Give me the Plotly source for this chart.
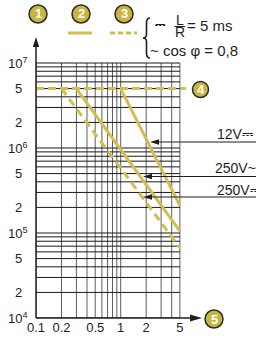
import math
import plotly.graph_objects as go

# ---------------- data ----------------
current_12v_dc = [1.0, 5.0]
cycles_12v_dc = [5.0e6, 2.1e5]
current_250v_ac = [0.3, 5.0]
cycles_250v_ac = [5.0e6, 1.05e5]
current_250v_dc = [0.2, 5.0]
cycles_250v_dc = [5.0e6, 6.7e4]
mech_current = [0.1, 5.9]
mech_cycles = [5.0e6, 5.0e6]

x_tick_vals = [0.1, 0.2, 0.5, 1, 2, 5]
x_tick_labels = ["0.1", "0.2", "0.5", "1", "2", "5"]
y_tick_vals = [1e4, 2e4, 5e4, 1e5, 2e5, 5e5, 1e6, 2e6, 5e6, 1e7]
y_tick_labels = ["10<sup>4</sup>", "2", "5", "10<sup>5</sup>", "2", "5",
                 "10<sup>6</sup>", "2", "5", "10<sup>7</sup>"]
x_grid_vals = [0.1, 0.2, 0.3, 0.4, 0.5, 0.6, 0.7, 0.8, 0.9, 1, 2, 3, 4, 5]
y_grid_vals = [m * 10 ** e for e in (4, 5, 6) for m in range(1, 10)] + [1e7]
curve_labels = ["12V⎓", "250V~", "250V⎓"]
marker_numbers = ["1", "2", "3", "4", "5"]

# ---------------- geometry helpers ----------------
W, H = 256, 343
PL, PR, PT, PB = 36, 51, 35, 25
PW, PH = W - PL - PR, H - PT - PB
DEC_X, DEC_Y = 84.7, 85.0


def fx(px):
    return (px - PL) / PW


def fy(py):
    return (PT + PH - py) / PH


GOLD = "#D2BE50"
CIRC = "#C9B43E"
INK = "#1e1e1e"
FONT = "Liberation Sans, Arial, sans-serif"

fig = go.Figure()

# grid
gx, gy = [], []
for v in x_grid_vals:
    gx += [v, v, None]
    gy += [1e4, 1e7, None]
fig.add_trace(go.Scatter(x=gx, y=gy, mode="lines", line=dict(color="#5e5e5e", width=1),
                         hoverinfo="skip", showlegend=False))
hx, hy = [], []
for v in y_grid_vals:
    hx += [0.1, 5, None]
    hy += [v, v, None]
fig.add_trace(go.Scatter(x=hx, y=hy, mode="lines", line=dict(color="#1a1a1a", width=1),
                         hoverinfo="skip", showlegend=False))

# curves
fig.add_trace(go.Scatter(x=mech_current, y=mech_cycles, mode="lines",
                         line=dict(color=GOLD, width=3, dash="8px,4px"), showlegend=False))
fig.add_trace(go.Scatter(x=current_250v_dc, y=cycles_250v_dc, mode="lines",
                         line=dict(color=GOLD, width=3, dash="8px,5px"), showlegend=False))
fig.add_trace(go.Scatter(x=current_250v_ac, y=cycles_250v_ac, mode="lines",
                         line=dict(color=GOLD, width=3), showlegend=False))
fig.add_trace(go.Scatter(x=current_12v_dc, y=cycles_12v_dc, mode="lines",
                         line=dict(color=GOLD, width=3), showlegend=False))

shapes = []
ann = []

# axes lines with arrows
shapes.append(dict(type="line", xref="paper", yref="paper", x0=0, x1=0, y0=0, y1=fy(45),
                   line=dict(color=INK, width=1.5)))
shapes.append(dict(type="path", xref="paper", yref="paper", fillcolor=INK, line=dict(width=0),
                   path=f"M{fx(36)},{fy(37)} L{fx(32.8)},{fy(47)} L{fx(39.2)},{fy(47)} Z"))
shapes.append(dict(type="line", xref="paper", yref="paper", x0=0, x1=fx(194), y0=0, y1=0,
                   line=dict(color=INK, width=1.5)))
shapes.append(dict(type="path", xref="paper", yref="paper", fillcolor=INK, line=dict(width=0),
                   path=f"M{fx(202)},{fy(318)} L{fx(190)},{fy(314.5)} L{fx(190)},{fy(321.5)} Z"))

# y tick labels
for v, t in zip(y_tick_vals, y_tick_labels):
    py = PT + PH - (math.log10(v) - 4) * DEC_Y
    ann.append(dict(xref="paper", yref="paper", x=fx(18), y=fy(py), text=t, showarrow=False,
                    xanchor="center", yanchor="middle", font=dict(family=FONT, size=13, color=INK)))

# numbered circles
circle_pos = [(38, 14, 9), (81, 14, 9), (124, 14, 9), (200.5, 89.5, 8), (214, 319, 9)]
for n, (cx, cy, r) in zip(marker_numbers, circle_pos):
    shapes.append(dict(type="circle", xref="paper", yref="paper",
                       x0=fx(cx - r), x1=fx(cx + r), y0=fy(cy + r), y1=fy(cy - r),
                       fillcolor=CIRC, line=dict(color="#2a2a2a", width=1.5)))
    ann.append(dict(xref="paper", yref="paper", x=fx(cx), y=fy(cy), text=f"<b>{n}</b>",
                    showarrow=False, xanchor="center", yanchor="middle",
                    font=dict(family="Liberation Sans Narrow, Arial", size=13, color="white")))

# legend samples
shapes.append(dict(type="line", xref="paper", yref="paper", x0=fx(68), x1=fx(92), y0=fy(33), y1=fy(33),
                   line=dict(color=GOLD, width=3)))
shapes.append(dict(type="line", xref="paper", yref="paper", x0=fx(110), x1=fx(137), y0=fy(33), y1=fy(33),
                   line=dict(color=GOLD, width=3, dash="5px,3px")))

# brace
p = f"M{fx(150)},{fy(18)} Q{fx(146.5)},{fy(18)} {fx(146.5)},{fy(23)} L{fx(146.5)},{fy(34)} " \
    f"Q{fx(146.5)},{fy(38)} {fx(143)},{fy(38)} Q{fx(146.5)},{fy(38)} {fx(146.5)},{fy(42)} " \
    f"L{fx(146.5)},{fy(53)} Q{fx(146.5)},{fy(58)} {fx(150)},{fy(58)}"
shapes.append(dict(type="path", xref="paper", yref="paper", path=p, line=dict(color=INK, width=1.6)))

# brace texts
ann.append(dict(xref="paper", yref="paper", x=fx(153), y=fy(25), text="⎓", showarrow=False,
                xanchor="left", yanchor="middle", font=dict(family="DejaVu Sans", size=13, color=INK)))
ann.append(dict(xref="paper", yref="paper", x=fx(180), y=fy(19.5), text="L", showarrow=False,
                xanchor="center", yanchor="middle", font=dict(family=FONT, size=14, color=INK)))
ann.append(dict(xref="paper", yref="paper", x=fx(180), y=fy(32.5), text="R", showarrow=False,
                xanchor="center", yanchor="middle", font=dict(family=FONT, size=14, color=INK)))
shapes.append(dict(type="line", xref="paper", yref="paper", x0=fx(174.5), x1=fx(185), y0=fy(26.5), y1=fy(26.5),
                   line=dict(color=INK, width=1)))
ann.append(dict(xref="paper", yref="paper", x=fx(185), y=fy(25.5), text="= 5 ms", showarrow=False,
                xanchor="left", yanchor="middle", font=dict(family=FONT, size=15, color=INK)))
ann.append(dict(xref="paper", yref="paper", x=fx(148), y=fy(51), text="~ cos φ = 0,8", showarrow=False,
                xanchor="left", yanchor="middle", font=dict(family=FONT, size=15, color=INK)))

# curve labels with pointer lines
label_pos = [(150, 142, 215, 133.5), (143, 176.5, 213, 168), (143, 197, 215, 189.5)]
for t, (tipx, ly, tx, ty) in zip(curve_labels, label_pos):
    shapes.append(dict(type="line", xref="paper", yref="paper", x0=fx(tipx + 5), x1=fx(260),
                       y0=fy(ly), y1=fy(ly), line=dict(color=INK, width=1)))
    shapes.append(dict(type="path", xref="paper", yref="paper", fillcolor=INK, line=dict(width=0),
                       path=f"M{fx(tipx)},{fy(ly)} L{fx(tipx + 9)},{fy(ly - 2.8)} L{fx(tipx + 9)},{fy(ly + 2.8)} Z"))
    ann.append(dict(xref="paper", yref="paper", x=fx(tx), y=fy(ty), text=t, showarrow=False,
                    xanchor="left", yanchor="middle", font=dict(family=FONT, size=14, color=INK)))

fig.update_layout(
    width=W, height=H, template="none",
    margin=dict(l=PL, r=PR, t=PT, b=PB, pad=0),
    paper_bgcolor="white", plot_bgcolor="white",
    showlegend=False, shapes=shapes, annotations=ann,
    xaxis=dict(type="log", range=[-1, -1 + PW / DEC_X], showgrid=False, zeroline=False,
               showline=False, ticks="", tickvals=x_tick_vals, ticktext=x_tick_labels,
               tickfont=dict(family=FONT, size=13, color=INK), automargin=False, fixedrange=True),
    yaxis=dict(type="log", range=[4, 4 + PH / DEC_Y], showgrid=False, zeroline=False,
               showline=False, ticks="", showticklabels=False, automargin=False, fixedrange=True),
)

fig.write_html("out.html", config={"displayModeBar": False, "staticPlot": True},
               post_script="document.body.style.margin='0';document.body.style.overflow='hidden';")
